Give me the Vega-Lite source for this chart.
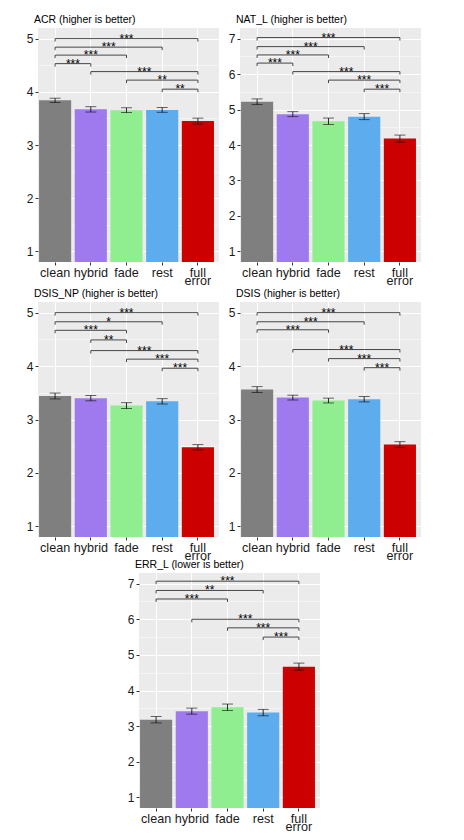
{
  "$schema": "https://vega.github.io/schema/vega-lite/v6.json",
  "padding": {"left": 26, "top": 14, "right": 5, "bottom": 5},
  "datasets": {
    "bars": [
      {"panel": "ACR", "cond": "clean", "mean": 3.84, "se": 0.04},
      {"panel": "ACR", "cond": "hybrid", "mean": 3.67, "se": 0.05},
      {"panel": "ACR", "cond": "fade", "mean": 3.655, "se": 0.045},
      {"panel": "ACR", "cond": "rest", "mean": 3.66, "se": 0.045},
      {"panel": "ACR", "cond": "full error", "mean": 3.45, "se": 0.055},
      {"panel": "NAT_L", "cond": "clean", "mean": 5.22, "se": 0.08},
      {"panel": "NAT_L", "cond": "hybrid", "mean": 4.87, "se": 0.07},
      {"panel": "NAT_L", "cond": "fade", "mean": 4.67, "se": 0.09},
      {"panel": "NAT_L", "cond": "rest", "mean": 4.8, "se": 0.085},
      {"panel": "NAT_L", "cond": "full error", "mean": 4.18, "se": 0.1},
      {"panel": "DSIS_NP", "cond": "clean", "mean": 3.44, "se": 0.055},
      {"panel": "DSIS_NP", "cond": "hybrid", "mean": 3.4, "se": 0.05},
      {"panel": "DSIS_NP", "cond": "fade", "mean": 3.26, "se": 0.055},
      {"panel": "DSIS_NP", "cond": "rest", "mean": 3.34, "se": 0.05},
      {"panel": "DSIS_NP", "cond": "full error", "mean": 2.48, "se": 0.05},
      {"panel": "DSIS", "cond": "clean", "mean": 3.56, "se": 0.055},
      {"panel": "DSIS", "cond": "hybrid", "mean": 3.41, "se": 0.045},
      {"panel": "DSIS", "cond": "fade", "mean": 3.355, "se": 0.045},
      {"panel": "DSIS", "cond": "rest", "mean": 3.38, "se": 0.05},
      {"panel": "DSIS", "cond": "full error", "mean": 2.53, "se": 0.055},
      {"panel": "ERR_L", "cond": "clean", "mean": 3.18, "se": 0.09},
      {"panel": "ERR_L", "cond": "hybrid", "mean": 3.42, "se": 0.085},
      {"panel": "ERR_L", "cond": "fade", "mean": 3.53, "se": 0.09},
      {"panel": "ERR_L", "cond": "rest", "mean": 3.38, "se": 0.09},
      {"panel": "ERR_L", "cond": "full error", "mean": 4.67, "se": 0.1}
    ],
    "brackets": [
      {"panel": "ACR", "from": 1, "to": 5, "y": 5.0, "label": "***"},
      {"panel": "ACR", "from": 1, "to": 4, "y": 4.84, "label": "***"},
      {"panel": "ACR", "from": 1, "to": 3, "y": 4.69, "label": "***"},
      {"panel": "ACR", "from": 1, "to": 2, "y": 4.53, "label": "***"},
      {"panel": "ACR", "from": 2, "to": 5, "y": 4.38, "label": "***"},
      {"panel": "ACR", "from": 3, "to": 5, "y": 4.22, "label": "**"},
      {"panel": "ACR", "from": 4, "to": 5, "y": 4.05, "label": "**"},
      {"panel": "NAT_L", "from": 1, "to": 5, "y": 7.03, "label": "***"},
      {"panel": "NAT_L", "from": 1, "to": 4, "y": 6.775, "label": "***"},
      {"panel": "NAT_L", "from": 1, "to": 3, "y": 6.54, "label": "***"},
      {"panel": "NAT_L", "from": 1, "to": 2, "y": 6.31, "label": "***"},
      {"panel": "NAT_L", "from": 2, "to": 5, "y": 6.07, "label": "***"},
      {"panel": "NAT_L", "from": 3, "to": 5, "y": 5.83, "label": "***"},
      {"panel": "NAT_L", "from": 4, "to": 5, "y": 5.575, "label": "***"},
      {"panel": "DSIS_NP", "from": 1, "to": 5, "y": 5.0, "label": "***"},
      {"panel": "DSIS_NP", "from": 1, "to": 4, "y": 4.83, "label": "*"},
      {"panel": "DSIS_NP", "from": 1, "to": 3, "y": 4.67, "label": "***"},
      {"panel": "DSIS_NP", "from": 2, "to": 3, "y": 4.49, "label": "**"},
      {"panel": "DSIS_NP", "from": 2, "to": 5, "y": 4.29, "label": "***"},
      {"panel": "DSIS_NP", "from": 3, "to": 5, "y": 4.13, "label": "***"},
      {"panel": "DSIS_NP", "from": 4, "to": 5, "y": 3.96, "label": "***"},
      {"panel": "DSIS", "from": 1, "to": 5, "y": 5.0, "label": "***"},
      {"panel": "DSIS", "from": 1, "to": 4, "y": 4.83, "label": "***"},
      {"panel": "DSIS", "from": 1, "to": 3, "y": 4.68, "label": "***"},
      {"panel": "DSIS", "from": 2, "to": 5, "y": 4.31, "label": "***"},
      {"panel": "DSIS", "from": 3, "to": 5, "y": 4.14, "label": "***"},
      {"panel": "DSIS", "from": 4, "to": 5, "y": 3.97, "label": "***"},
      {"panel": "ERR_L", "from": 1, "to": 5, "y": 7.07, "label": "***"},
      {"panel": "ERR_L", "from": 1, "to": 4, "y": 6.81, "label": "**"},
      {"panel": "ERR_L", "from": 1, "to": 3, "y": 6.57, "label": "***"},
      {"panel": "ERR_L", "from": 2, "to": 5, "y": 6.0, "label": "***"},
      {"panel": "ERR_L", "from": 3, "to": 5, "y": 5.76, "label": "***"},
      {"panel": "ERR_L", "from": 4, "to": 5, "y": 5.5, "label": "***"}
    ]
  },
  "config": {
    "font": "Liberation Sans",
    "view": {"fill": "#EBEBEB", "stroke": null},
    "title": {"fontSize": 10.5, "fontWeight": "normal", "anchor": "start", "frame": "group", "offset": 3, "color": "#000000", "dx": -4, "font": "Liberation Sans"},
    "axis": {"domain": false, "grid": true, "gridColor": "#FFFFFF", "tickColor": "#333333", "tickSize": 3, "labelColor": "#1A1A1A", "labelFont": "Liberation Sans"},
    "axisX": {"labelFontSize": 12.6, "labelAngle": 0, "labelPadding": 1, "labelLineHeight": 8.7, "labelOverlap": false, "gridWidth": 1.1, "bandPosition": 0.5, "labelExpr": "datum.label == 'full error' ? ['full', 'error'] : datum.label"},
    "axisY": {"labelFontSize": 12, "labelPadding": 2, "labelOverlap": false, "tickCount": 40},
    "text": {"font": "Liberation Sans"}
  },
  "center": true,
  "spacing": -4,
  "vconcat": [
    {
      "spacing": 0,
      "vconcat": [
        {
          "spacing": 9,
          "hconcat": [
            {
              "width": 181, "height": 234,
              "title": "ACR (higher is better)",
              "resolve": {"scale": {"x": "independent"}},
              "layer": [
                {"data": {"name": "bars"}, "transform": [{"filter": "datum.panel == 'ACR'"}],
                 "mark": {"type": "bar", "clip": true},
                 "encoding": {
                   "x": {"field": "cond", "type": "nominal", "sort": ["clean", "hybrid", "fade", "rest", "full error"], "scale": {"paddingInner": 0.1, "paddingOuter": 0.085, "align": 0.17}, "axis": {"title": null}},
                   "y": {"field": "mean", "type": "quantitative", "scale": {"domain": [0.8, 5.2], "nice": false, "zero": false}, "axis": {"title": null, "tickCount": 40, "labelOverlap": false, "values": [1, 1.5, 2, 2.5, 3, 3.5, 4, 4.5, 5], "labelExpr": "datum.value % 1 == 0 ? '' + datum.value : ''", "gridWidth": {"condition": {"test": "datum.value % 1 != 0", "value": 0.5}, "value": 1.1}, "tickOpacity": {"condition": {"test": "datum.value % 1 != 0", "value": 0}, "value": 1}}},
                   "color": {"field": "cond", "type": "nominal", "scale": {"domain": ["clean", "hybrid", "fade", "rest", "full error"], "range": ["#7F7F7F", "#9F79EE", "#90EE90", "#5CACEE", "#CD0000"]}, "legend": null}
                 }},
                {"data": {"name": "bars"}, "transform": [{"filter": "datum.panel == 'ACR'"}],
                 "mark": {"type": "errorbar", "ticks": true, "size": 11, "thickness": 0.9, "color": "#111111"},
                 "encoding": {
                   "x": {"field": "cond", "type": "nominal", "sort": ["clean", "hybrid", "fade", "rest", "full error"], "scale": {"paddingInner": 0.1, "paddingOuter": 0.085, "align": 0.17}, "axis": null},
                   "y": {"field": "mean", "type": "quantitative", "scale": {"domain": [0.8, 5.2], "nice": false, "zero": false}, "title": null},
                   "yError": {"field": "se"}
                 }},
                {"data": {"name": "brackets"}, "transform": [{"filter": "datum.panel == 'ACR'"}],
                 "mark": {"type": "rule", "color": "#333333", "strokeWidth": 0.9},
                 "encoding": {
                   "x": {"field": "from", "type": "quantitative", "scale": {"domain": [0.521, 5.591], "nice": false, "zero": false}, "axis": null},
                   "x2": {"field": "to"},
                   "y": {"field": "y", "type": "quantitative", "scale": {"domain": [0.8, 5.2], "nice": false, "zero": false}, "title": null}
                 }},
                {"data": {"name": "brackets"}, "transform": [{"filter": "datum.panel == 'ACR'"}, {"fold": ["from", "to"], "as": ["end", "pos"]}],
                 "mark": {"type": "rule", "color": "#333333", "strokeWidth": 0.9, "y2Offset": 3},
                 "encoding": {
                   "x": {"field": "pos", "type": "quantitative", "scale": {"domain": [0.521, 5.591], "nice": false, "zero": false}, "axis": null},
                   "y": {"field": "y", "type": "quantitative", "scale": {"domain": [0.8, 5.2], "nice": false, "zero": false}, "title": null},
                   "y2": {"field": "y"}
                 }},
                {"data": {"name": "brackets"}, "transform": [{"filter": "datum.panel == 'ACR'"}, {"fold": ["from", "to"], "as": ["end", "pos"]}],
                 "mark": {"type": "text", "fontSize": 12, "baseline": "middle", "color": "#000000"},
                 "encoding": {
                   "x": {"field": "pos", "aggregate": "mean", "type": "quantitative", "scale": {"domain": [0.521, 5.591], "nice": false, "zero": false}, "axis": null},
                   "y": {"field": "y", "type": "quantitative", "scale": {"domain": [0.8, 5.2], "nice": false, "zero": false}, "title": null},
                   "text": {"field": "label"}
                 }}
              ]
            },
            {
              "width": 181, "height": 234,
              "title": "NAT_L (higher is better)",
              "resolve": {"scale": {"x": "independent"}},
              "layer": [
                {"data": {"name": "bars"}, "transform": [{"filter": "datum.panel == 'NAT_L'"}],
                 "mark": {"type": "bar", "clip": true},
                 "encoding": {
                   "x": {"field": "cond", "type": "nominal", "sort": ["clean", "hybrid", "fade", "rest", "full error"], "scale": {"paddingInner": 0.1, "paddingOuter": 0.085, "align": 0.17}, "axis": {"title": null}},
                   "y": {"field": "mean", "type": "quantitative", "scale": {"domain": [0.7, 7.3], "nice": false, "zero": false}, "axis": {"title": null, "tickCount": 40, "labelOverlap": false, "values": [1, 1.5, 2, 2.5, 3, 3.5, 4, 4.5, 5, 5.5, 6, 6.5, 7], "labelExpr": "datum.value % 1 == 0 ? '' + datum.value : ''", "gridWidth": {"condition": {"test": "datum.value % 1 != 0", "value": 0.5}, "value": 1.1}, "tickOpacity": {"condition": {"test": "datum.value % 1 != 0", "value": 0}, "value": 1}}},
                   "color": {"field": "cond", "type": "nominal", "scale": {"domain": ["clean", "hybrid", "fade", "rest", "full error"], "range": ["#7F7F7F", "#9F79EE", "#90EE90", "#5CACEE", "#CD0000"]}, "legend": null}
                 }},
                {"data": {"name": "bars"}, "transform": [{"filter": "datum.panel == 'NAT_L'"}],
                 "mark": {"type": "errorbar", "ticks": true, "size": 11, "thickness": 0.9, "color": "#111111"},
                 "encoding": {
                   "x": {"field": "cond", "type": "nominal", "sort": ["clean", "hybrid", "fade", "rest", "full error"], "scale": {"paddingInner": 0.1, "paddingOuter": 0.085, "align": 0.17}, "axis": null},
                   "y": {"field": "mean", "type": "quantitative", "scale": {"domain": [0.7, 7.3], "nice": false, "zero": false}, "title": null},
                   "yError": {"field": "se"}
                 }},
                {"data": {"name": "brackets"}, "transform": [{"filter": "datum.panel == 'NAT_L'"}],
                 "mark": {"type": "rule", "color": "#333333", "strokeWidth": 0.9},
                 "encoding": {
                   "x": {"field": "from", "type": "quantitative", "scale": {"domain": [0.521, 5.591], "nice": false, "zero": false}, "axis": null},
                   "x2": {"field": "to"},
                   "y": {"field": "y", "type": "quantitative", "scale": {"domain": [0.7, 7.3], "nice": false, "zero": false}, "title": null}
                 }},
                {"data": {"name": "brackets"}, "transform": [{"filter": "datum.panel == 'NAT_L'"}, {"fold": ["from", "to"], "as": ["end", "pos"]}],
                 "mark": {"type": "rule", "color": "#333333", "strokeWidth": 0.9, "y2Offset": 3},
                 "encoding": {
                   "x": {"field": "pos", "type": "quantitative", "scale": {"domain": [0.521, 5.591], "nice": false, "zero": false}, "axis": null},
                   "y": {"field": "y", "type": "quantitative", "scale": {"domain": [0.7, 7.3], "nice": false, "zero": false}, "title": null},
                   "y2": {"field": "y"}
                 }},
                {"data": {"name": "brackets"}, "transform": [{"filter": "datum.panel == 'NAT_L'"}, {"fold": ["from", "to"], "as": ["end", "pos"]}],
                 "mark": {"type": "text", "fontSize": 12, "baseline": "middle", "color": "#000000"},
                 "encoding": {
                   "x": {"field": "pos", "aggregate": "mean", "type": "quantitative", "scale": {"domain": [0.521, 5.591], "nice": false, "zero": false}, "axis": null},
                   "y": {"field": "y", "type": "quantitative", "scale": {"domain": [0.7, 7.3], "nice": false, "zero": false}, "title": null},
                   "text": {"field": "label"}
                 }}
              ]
            }
          ]
        },
        {
          "spacing": 9,
          "hconcat": [
            {
              "width": 181, "height": 235,
              "title": "DSIS_NP (higher is better)",
              "resolve": {"scale": {"x": "independent"}},
              "layer": [
                {"data": {"name": "bars"}, "transform": [{"filter": "datum.panel == 'DSIS_NP'"}],
                 "mark": {"type": "bar", "clip": true},
                 "encoding": {
                   "x": {"field": "cond", "type": "nominal", "sort": ["clean", "hybrid", "fade", "rest", "full error"], "scale": {"paddingInner": 0.1, "paddingOuter": 0.085, "align": 0.17}, "axis": {"title": null}},
                   "y": {"field": "mean", "type": "quantitative", "scale": {"domain": [0.8, 5.2], "nice": false, "zero": false}, "axis": {"title": null, "tickCount": 40, "labelOverlap": false, "values": [1, 1.5, 2, 2.5, 3, 3.5, 4, 4.5, 5], "labelExpr": "datum.value % 1 == 0 ? '' + datum.value : ''", "gridWidth": {"condition": {"test": "datum.value % 1 != 0", "value": 0.5}, "value": 1.1}, "tickOpacity": {"condition": {"test": "datum.value % 1 != 0", "value": 0}, "value": 1}}},
                   "color": {"field": "cond", "type": "nominal", "scale": {"domain": ["clean", "hybrid", "fade", "rest", "full error"], "range": ["#7F7F7F", "#9F79EE", "#90EE90", "#5CACEE", "#CD0000"]}, "legend": null}
                 }},
                {"data": {"name": "bars"}, "transform": [{"filter": "datum.panel == 'DSIS_NP'"}],
                 "mark": {"type": "errorbar", "ticks": true, "size": 11, "thickness": 0.9, "color": "#111111"},
                 "encoding": {
                   "x": {"field": "cond", "type": "nominal", "sort": ["clean", "hybrid", "fade", "rest", "full error"], "scale": {"paddingInner": 0.1, "paddingOuter": 0.085, "align": 0.17}, "axis": null},
                   "y": {"field": "mean", "type": "quantitative", "scale": {"domain": [0.8, 5.2], "nice": false, "zero": false}, "title": null},
                   "yError": {"field": "se"}
                 }},
                {"data": {"name": "brackets"}, "transform": [{"filter": "datum.panel == 'DSIS_NP'"}],
                 "mark": {"type": "rule", "color": "#333333", "strokeWidth": 0.9},
                 "encoding": {
                   "x": {"field": "from", "type": "quantitative", "scale": {"domain": [0.521, 5.591], "nice": false, "zero": false}, "axis": null},
                   "x2": {"field": "to"},
                   "y": {"field": "y", "type": "quantitative", "scale": {"domain": [0.8, 5.2], "nice": false, "zero": false}, "title": null}
                 }},
                {"data": {"name": "brackets"}, "transform": [{"filter": "datum.panel == 'DSIS_NP'"}, {"fold": ["from", "to"], "as": ["end", "pos"]}],
                 "mark": {"type": "rule", "color": "#333333", "strokeWidth": 0.9, "y2Offset": 3},
                 "encoding": {
                   "x": {"field": "pos", "type": "quantitative", "scale": {"domain": [0.521, 5.591], "nice": false, "zero": false}, "axis": null},
                   "y": {"field": "y", "type": "quantitative", "scale": {"domain": [0.8, 5.2], "nice": false, "zero": false}, "title": null},
                   "y2": {"field": "y"}
                 }},
                {"data": {"name": "brackets"}, "transform": [{"filter": "datum.panel == 'DSIS_NP'"}, {"fold": ["from", "to"], "as": ["end", "pos"]}],
                 "mark": {"type": "text", "fontSize": 12, "baseline": "middle", "color": "#000000"},
                 "encoding": {
                   "x": {"field": "pos", "aggregate": "mean", "type": "quantitative", "scale": {"domain": [0.521, 5.591], "nice": false, "zero": false}, "axis": null},
                   "y": {"field": "y", "type": "quantitative", "scale": {"domain": [0.8, 5.2], "nice": false, "zero": false}, "title": null},
                   "text": {"field": "label"}
                 }}
              ]
            },
            {
              "width": 181, "height": 235,
              "title": "DSIS (higher is better)",
              "resolve": {"scale": {"x": "independent"}},
              "layer": [
                {"data": {"name": "bars"}, "transform": [{"filter": "datum.panel == 'DSIS'"}],
                 "mark": {"type": "bar", "clip": true},
                 "encoding": {
                   "x": {"field": "cond", "type": "nominal", "sort": ["clean", "hybrid", "fade", "rest", "full error"], "scale": {"paddingInner": 0.1, "paddingOuter": 0.085, "align": 0.17}, "axis": {"title": null}},
                   "y": {"field": "mean", "type": "quantitative", "scale": {"domain": [0.8, 5.2], "nice": false, "zero": false}, "axis": {"title": null, "tickCount": 40, "labelOverlap": false, "values": [1, 1.5, 2, 2.5, 3, 3.5, 4, 4.5, 5], "labelExpr": "datum.value % 1 == 0 ? '' + datum.value : ''", "gridWidth": {"condition": {"test": "datum.value % 1 != 0", "value": 0.5}, "value": 1.1}, "tickOpacity": {"condition": {"test": "datum.value % 1 != 0", "value": 0}, "value": 1}}},
                   "color": {"field": "cond", "type": "nominal", "scale": {"domain": ["clean", "hybrid", "fade", "rest", "full error"], "range": ["#7F7F7F", "#9F79EE", "#90EE90", "#5CACEE", "#CD0000"]}, "legend": null}
                 }},
                {"data": {"name": "bars"}, "transform": [{"filter": "datum.panel == 'DSIS'"}],
                 "mark": {"type": "errorbar", "ticks": true, "size": 11, "thickness": 0.9, "color": "#111111"},
                 "encoding": {
                   "x": {"field": "cond", "type": "nominal", "sort": ["clean", "hybrid", "fade", "rest", "full error"], "scale": {"paddingInner": 0.1, "paddingOuter": 0.085, "align": 0.17}, "axis": null},
                   "y": {"field": "mean", "type": "quantitative", "scale": {"domain": [0.8, 5.2], "nice": false, "zero": false}, "title": null},
                   "yError": {"field": "se"}
                 }},
                {"data": {"name": "brackets"}, "transform": [{"filter": "datum.panel == 'DSIS'"}],
                 "mark": {"type": "rule", "color": "#333333", "strokeWidth": 0.9},
                 "encoding": {
                   "x": {"field": "from", "type": "quantitative", "scale": {"domain": [0.521, 5.591], "nice": false, "zero": false}, "axis": null},
                   "x2": {"field": "to"},
                   "y": {"field": "y", "type": "quantitative", "scale": {"domain": [0.8, 5.2], "nice": false, "zero": false}, "title": null}
                 }},
                {"data": {"name": "brackets"}, "transform": [{"filter": "datum.panel == 'DSIS'"}, {"fold": ["from", "to"], "as": ["end", "pos"]}],
                 "mark": {"type": "rule", "color": "#333333", "strokeWidth": 0.9, "y2Offset": 3},
                 "encoding": {
                   "x": {"field": "pos", "type": "quantitative", "scale": {"domain": [0.521, 5.591], "nice": false, "zero": false}, "axis": null},
                   "y": {"field": "y", "type": "quantitative", "scale": {"domain": [0.8, 5.2], "nice": false, "zero": false}, "title": null},
                   "y2": {"field": "y"}
                 }},
                {"data": {"name": "brackets"}, "transform": [{"filter": "datum.panel == 'DSIS'"}, {"fold": ["from", "to"], "as": ["end", "pos"]}],
                 "mark": {"type": "text", "fontSize": 12, "baseline": "middle", "color": "#000000"},
                 "encoding": {
                   "x": {"field": "pos", "aggregate": "mean", "type": "quantitative", "scale": {"domain": [0.521, 5.591], "nice": false, "zero": false}, "axis": null},
                   "y": {"field": "y", "type": "quantitative", "scale": {"domain": [0.8, 5.2], "nice": false, "zero": false}, "title": null},
                   "text": {"field": "label"}
                 }}
              ]
            }
          ]
        }
      ]
    },
    {
      "width": 181, "height": 235,
      "title": "ERR_L (lower is better)",
      "resolve": {"scale": {"x": "independent"}},
      "layer": [
        {"data": {"name": "bars"}, "transform": [{"filter": "datum.panel == 'ERR_L'"}],
         "mark": {"type": "bar", "clip": true},
         "encoding": {
           "x": {"field": "cond", "type": "nominal", "sort": ["clean", "hybrid", "fade", "rest", "full error"], "scale": {"paddingInner": 0.1, "paddingOuter": 0.085, "align": 0.17}, "axis": {"title": null}},
           "y": {"field": "mean", "type": "quantitative", "scale": {"domain": [0.7, 7.3], "nice": false, "zero": false}, "axis": {"title": null, "tickCount": 40, "labelOverlap": false, "values": [1, 1.5, 2, 2.5, 3, 3.5, 4, 4.5, 5, 5.5, 6, 6.5, 7], "labelExpr": "datum.value % 1 == 0 ? '' + datum.value : ''", "gridWidth": {"condition": {"test": "datum.value % 1 != 0", "value": 0.5}, "value": 1.1}, "tickOpacity": {"condition": {"test": "datum.value % 1 != 0", "value": 0}, "value": 1}}},
           "color": {"field": "cond", "type": "nominal", "scale": {"domain": ["clean", "hybrid", "fade", "rest", "full error"], "range": ["#7F7F7F", "#9F79EE", "#90EE90", "#5CACEE", "#CD0000"]}, "legend": null}
         }},
        {"data": {"name": "bars"}, "transform": [{"filter": "datum.panel == 'ERR_L'"}],
         "mark": {"type": "errorbar", "ticks": true, "size": 11, "thickness": 0.9, "color": "#111111"},
         "encoding": {
           "x": {"field": "cond", "type": "nominal", "sort": ["clean", "hybrid", "fade", "rest", "full error"], "scale": {"paddingInner": 0.1, "paddingOuter": 0.085, "align": 0.17}, "axis": null},
           "y": {"field": "mean", "type": "quantitative", "scale": {"domain": [0.7, 7.3], "nice": false, "zero": false}, "title": null},
           "yError": {"field": "se"}
         }},
        {"data": {"name": "brackets"}, "transform": [{"filter": "datum.panel == 'ERR_L'"}],
         "mark": {"type": "rule", "color": "#333333", "strokeWidth": 0.9},
         "encoding": {
           "x": {"field": "from", "type": "quantitative", "scale": {"domain": [0.521, 5.591], "nice": false, "zero": false}, "axis": null},
           "x2": {"field": "to"},
           "y": {"field": "y", "type": "quantitative", "scale": {"domain": [0.7, 7.3], "nice": false, "zero": false}, "title": null}
         }},
        {"data": {"name": "brackets"}, "transform": [{"filter": "datum.panel == 'ERR_L'"}, {"fold": ["from", "to"], "as": ["end", "pos"]}],
         "mark": {"type": "rule", "color": "#333333", "strokeWidth": 0.9, "y2Offset": 3},
         "encoding": {
           "x": {"field": "pos", "type": "quantitative", "scale": {"domain": [0.521, 5.591], "nice": false, "zero": false}, "axis": null},
           "y": {"field": "y", "type": "quantitative", "scale": {"domain": [0.7, 7.3], "nice": false, "zero": false}, "title": null},
           "y2": {"field": "y"}
         }},
        {"data": {"name": "brackets"}, "transform": [{"filter": "datum.panel == 'ERR_L'"}, {"fold": ["from", "to"], "as": ["end", "pos"]}],
         "mark": {"type": "text", "fontSize": 12, "baseline": "middle", "color": "#000000"},
         "encoding": {
           "x": {"field": "pos", "aggregate": "mean", "type": "quantitative", "scale": {"domain": [0.521, 5.591], "nice": false, "zero": false}, "axis": null},
           "y": {"field": "y", "type": "quantitative", "scale": {"domain": [0.7, 7.3], "nice": false, "zero": false}, "title": null},
           "text": {"field": "label"}
         }}
      ]
    }
  ]
}
